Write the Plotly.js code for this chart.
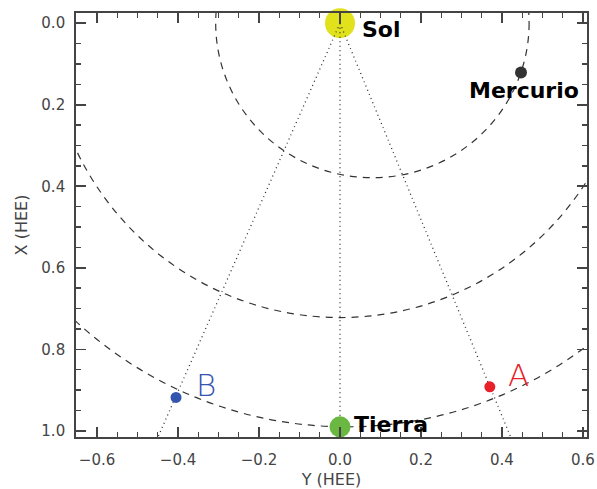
<!DOCTYPE html>
<html>
<head>
<meta charset="utf-8">
<script src="https://cdn.plot.ly/plotly-3.0.1.min.js"></script>
<style>html,body{margin:0;padding:0;background:#fff;}#chart{width:597px;height:489px;}</style>
</head>
<body>
<div id="chart"></div>
<script>
// Bodies (Y HEE on horizontal axis, X HEE on vertical axis)
const bodyNames = ['Sol', 'Mercurio', 'Tierra', 'A', 'B'];
const bodyY = [0.0, 0.447, 0.0, 0.37, -0.405];
const bodyX = [0.0, 0.121, 0.99, 0.892, 0.918];
const bodyColors = ['#e1e11c', '#333333', '#6ab842', '#e8202a', '#3355b0'];
const bodySizes = [30, 12, 21, 11, 11];

// Orbits as bounding boxes (Y min/max, X min/max)
const orbitNames = ['Mercurio', 'Venus', 'Tierra'];
const orbitYmin = [-0.307, -0.722, -0.975];
const orbitYmax = [0.467, 0.722, 1.005];
const orbitXmin = [-0.379, -0.722, -0.99];
const orbitXmax = [0.379, 0.722, 0.99];

// Sight lines from the Sun
const rayNames = ['B', 'Tierra', 'A'];
const rayEndY = [-0.465, 0.0, 0.436];
const rayEndX = [1.05, 0.99, 1.05];

// Axis ticks
const tickVals = [-0.6, -0.4, -0.2, 0.0, 0.2, 0.4, 0.6];
const tickText = ['\u22120.6', '\u22120.4', '\u22120.2', '0.0', '0.2', '0.4', '0.6'];
const yTickVals = [0.0, 0.2, 0.4, 0.6, 0.8, 1.0];
const yTickText = ['0.0', '0.2', '0.4', '0.6', '0.8', '1.0'];

const traces = [];
// Sun first, so the sight lines are drawn over it
traces.push({
  x: bodyY.slice(0, 1), y: bodyX.slice(0, 1), mode: 'markers',
  marker: {color: bodyColors[0], size: bodySizes[0], opacity: 1, line: {width: 0}},
  showlegend: false, cliponaxis: false, hoverinfo: 'skip'
});
rayNames.forEach((n, i) => {
  traces.push({
    x: [bodyY[0], rayEndY[i]], y: [bodyX[0], rayEndX[i]],
    mode: 'lines', line: {color: '#333', width: 1.3, dash: '1px,3.5px'},
    hoverinfo: 'skip', showlegend: false
  });
});
traces.push({
  x: bodyY.slice(1), y: bodyX.slice(1), mode: 'markers', text: bodyNames.slice(1),
  marker: {color: bodyColors.slice(1), size: bodySizes.slice(1), opacity: 1, line: {width: 0}},
  showlegend: false, cliponaxis: false
});

const shapes = orbitNames.map((n, i) => ({
  type: 'circle', xref: 'x', yref: 'y', layer: 'below',
  x0: orbitYmin[i], x1: orbitYmax[i], y0: orbitXmin[i], y1: orbitXmax[i],
  line: {color: '#333', width: 1.2, dash: '7px,6px'}
}));

const boldFont = {family: 'DejaVu Sans', size: 22, color: '#000', weight: 'bold'};
const thinFont = (c) => ({family: 'DejaVu Sans', size: 31, color: c, weight: 200});
const annotations = [
  {x: bodyY[0], y: bodyX[0], text: bodyNames[0], font: boldFont, xanchor: 'left', yanchor: 'middle', xshift: 20, yshift: -6},
  {x: bodyY[1], y: bodyX[1], text: bodyNames[1], font: boldFont, xanchor: 'center', yanchor: 'middle', xshift: 3, yshift: -18},
  {x: bodyY[2], y: bodyX[2], text: bodyNames[2], font: boldFont, xanchor: 'left', yanchor: 'middle', xshift: 12, yshift: 2},
  {x: bodyY[3], y: bodyX[3], text: bodyNames[3], font: thinFont(bodyColors[3]), xanchor: 'left', yanchor: 'middle', xshift: 16, yshift: 12},
  {x: bodyY[4], y: bodyX[4], text: bodyNames[4], font: thinFont(bodyColors[4]), xanchor: 'left', yanchor: 'middle', xshift: 18, yshift: 12}
].map(a => Object.assign({showarrow: false, xref: 'x', yref: 'y'}, a));

const axisCommon = {
  showline: true, linecolor: '#444', linewidth: 1.8, mirror: 'ticks',
  ticks: 'inside', ticklen: 10, tickwidth: 1.6, tickcolor: '#444',
  showgrid: false, zeroline: false,
  tickfont: {family: 'DejaVu Sans', size: 15, color: '#444'},
  minor: {dtick: 0.05, ticks: 'inside', ticklen: 5, tickwidth: 1.4, tickcolor: '#444', showgrid: false}
};

const layout = {
  width: 597, height: 489,
  margin: {l: 76, r: 10, t: 13, b: 52},
  paper_bgcolor: '#fff', plot_bgcolor: '#fff',
  xaxis: Object.assign({}, axisCommon, {
    range: [-0.652, 0.61], tickvals: tickVals, ticktext: tickText,
    minor: Object.assign({}, axisCommon.minor, {tick0: 0}),
    ticklabelstandoff: 8,
    title: {text: 'Y (HEE)', font: {family: 'DejaVu Sans', size: 16, color: '#444'}, standoff: 6}
  }),
  yaxis: Object.assign({}, axisCommon, {
    range: [1.015, -0.025], tickvals: yTickVals, ticktext: yTickText,
    minor: Object.assign({}, axisCommon.minor, {tick0: 0}),
    ticklabelstandoff: 6,
    title: {text: 'X (HEE)', font: {family: 'DejaVu Sans', size: 16, color: '#444'}, standoff: 10}
  }),
  shapes: shapes,
  annotations: annotations,
  showlegend: false
};

Plotly.newPlot('chart', traces, layout, {displayModeBar: false, staticPlot: true});
</script>
</body>
</html>
